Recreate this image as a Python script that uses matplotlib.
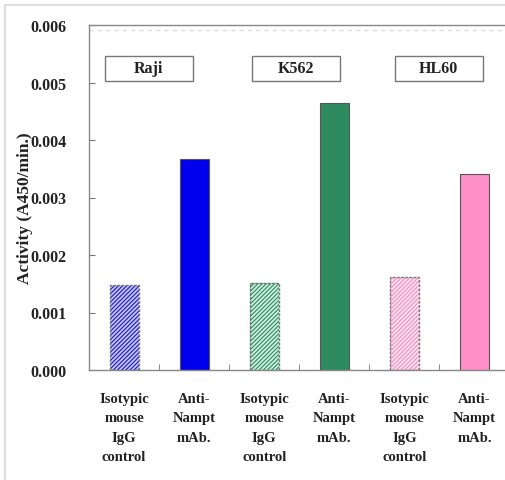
import matplotlib
matplotlib.use("Agg")
import matplotlib.pyplot as plt
from matplotlib.patches import Rectangle
from matplotlib.lines import Line2D

plt.rcParams['font.family'] = ['Liberation Serif', 'DejaVu Serif']
plt.rcParams['font.weight'] = 'bold'
plt.rcParams['hatch.linewidth'] = 0.8

categories = ["Isotypic\nmouse\nIgG\ncontrol", "Anti-\nNampt\nmAb.",
              "Isotypic\nmouse\nIgG\ncontrol", "Anti-\nNampt\nmAb.",
              "Isotypic\nmouse\nIgG\ncontrol", "Anti-\nNampt\nmAb."]
values = [0.00148, 0.00367, 0.00151, 0.00464, 0.00162, 0.00341]
cell_lines = ["Raji", "K562", "HL60"]
line_colors = ["#1a1acc", "#2e8b5f", "#f090c0"]
hatch_faces = ["#c4c4ee", "#cdeedd", "#fbe0f0"]
bar_colors = ["#0000ee", "#2e8b5f", "#ff90c8"]
yticks = [0.000, 0.001, 0.002, 0.003, 0.004, 0.005, 0.006]
ylabel = "Activity (A450/min.)"

fig = plt.figure(figsize=(5.06, 4.81), dpi=100)
# light border around the figure
fig.add_artist(Line2D([5/506, 5/506], [0, 1 - 6/481], color="#dddddd", lw=1.5, transform=fig.transFigure))
fig.add_artist(Line2D([5/506, 1], [1 - 6/481, 1 - 6/481], color="#dddddd", lw=1.5, transform=fig.transFigure))

ax = fig.add_axes([89/506, 1 - 371/481, 420.5/506, 345/481])
x = list(range(len(values)))
bw = 29/70
for i, v in enumerate(values):
    g = i // 2
    if i % 2 == 0:
        ax.bar(i, v, width=bw, color=hatch_faces[g], edgecolor=line_colors[g], hatch="////////", linewidth=0)
        ax.bar(i, v, width=bw, fill=False, edgecolor="#777777", linestyle=(0, (2, 1)), linewidth=1.0)
    else:
        ax.bar(i, v, width=bw, color=bar_colors[g], edgecolor="#555555", linewidth=0.8)

ax.set_xlim(-0.5, 5.5)
ax.set_ylim(0, 0.006)
ax.set_yticks(yticks)
ax.set_yticklabels([f"{t:.3f}" for t in yticks], fontsize=11.5, fontweight="bold", color="#222222")
ax.set_xticks(x)
ax.set_xticklabels(categories, fontsize=10.5, fontweight="bold", linespacing=1.62, color="#222222")
ax.tick_params(axis="x", which="major", length=0, pad=16)
ax.set_xticks([0.5, 1.5, 2.5, 3.5, 4.5], minor=True)
ax.tick_params(axis="x", which="minor", direction="in", length=4, color="#777777")
ax.tick_params(axis="y", direction="in", length=4, color="#777777", pad=16)
for s in ["left", "bottom", "top", "right"]:
    ax.spines[s].set_color("#888888")
    ax.spines[s].set_linewidth(1.0)
fig.text(25/506, 1 - 208/481, ylabel, rotation=90, ha="center", va="center",
         fontsize=12.5, fontweight="bold", color="#222222")
ax.axhline(0.006 - 5/57500, color="#dddddd", lw=1, ls=(0, (3, 3)))

# cell line label boxes
box_x = [0.35, 2.45, 4.49]
box_w = 88/70
box_h = 25/57500
box_y = 0.00525
for cx, name in zip(box_x, cell_lines):
    ax.add_patch(Rectangle((cx - box_w/2, box_y - box_h/2), box_w, box_h,
                           fill=False, edgecolor="#777777", lw=1.0, clip_on=False))
    ax.text(cx, box_y, name, ha="center", va="center", fontsize=11.5, fontweight="bold", color="#222222")

fig.savefig("out.png", dpi=100)
